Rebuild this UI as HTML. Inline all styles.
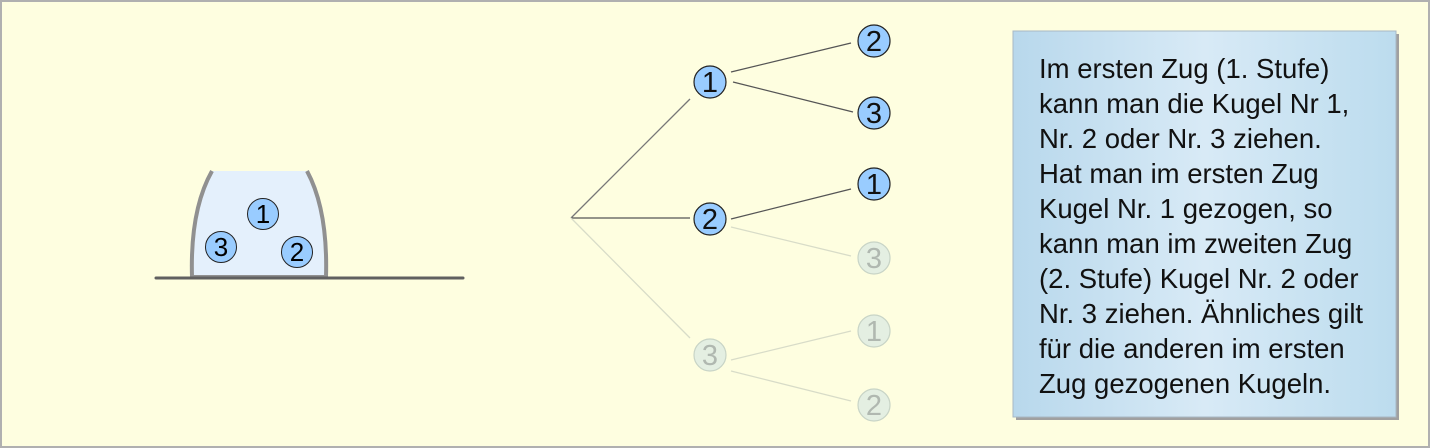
<!DOCTYPE html>
<html><head><meta charset="utf-8"><style>
html,body{margin:0;padding:0;}
body{width:1430px;height:448px;overflow:hidden;background:#fefee0;font-family:"Liberation Sans",sans-serif;}
</style></head><body>
<svg width="1430" height="448" xmlns="http://www.w3.org/2000/svg" font-family="Liberation Sans, sans-serif" style="display:block">
<defs>
<linearGradient id="g" x1="0" y1="0" x2="1" y2="0">
<stop offset="0" stop-color="#b8d8ec"/><stop offset="0.5" stop-color="#d8eaf6"/><stop offset="1" stop-color="#bcdcee"/>
</linearGradient>
</defs>
<rect x="1" y="1" width="1428" height="446" fill="#fefee0" stroke="#b0b0b0" stroke-width="2"/>
<!-- jar -->
<path d="M212,171 Q190,210 192,277 L326,277 Q328,210 307,171 Z" fill="#e4f0fc"/>
<path d="M212,171 Q190,210 192,277 L326,277 Q328,210 307,171" fill="none" stroke="#909090" stroke-width="4"/>
<line x1="156" y1="278" x2="463" y2="278" stroke="#606060" stroke-width="3" stroke-linecap="round"/>
<g font-size="26" text-anchor="middle">
<circle cx="263" cy="214" r="15.5" fill="#99ccff" stroke="#222" stroke-width="1"/><text x="263" y="223">1</text>
<circle cx="221" cy="247" r="15.5" fill="#99ccff" stroke="#222" stroke-width="1"/><text x="221" y="256">3</text>
<circle cx="297" cy="252" r="15.5" fill="#99ccff" stroke="#222" stroke-width="1"/><text x="297" y="261">2</text>
</g>
<!-- tree lines -->
<g stroke-width="1.3">
<line x1="571" y1="218" x2="690" y2="99" stroke="#777"/>
<line x1="571" y1="218" x2="690" y2="218" stroke="#555"/>
<line x1="571" y1="218" x2="690" y2="338" stroke="#d8dcc8"/>
<line x1="731" y1="72" x2="851" y2="43" stroke="#555"/>
<line x1="733" y1="82" x2="853" y2="112" stroke="#555"/>
<line x1="731" y1="219" x2="851" y2="189" stroke="#555"/>
<line x1="731" y1="227" x2="851" y2="256" stroke="#d8dcc8"/>
<line x1="731" y1="360" x2="851" y2="331" stroke="#d8dcc8"/>
<line x1="731" y1="371" x2="851" y2="401" stroke="#d8dcc8"/>
</g>
<g font-size="29" text-anchor="middle">
<g fill="#99ccff" stroke="#222" stroke-width="1.2">
<circle cx="710" cy="82" r="16"/><circle cx="710" cy="219" r="16"/>
<circle cx="874" cy="41" r="16"/><circle cx="874" cy="113" r="16"/><circle cx="874" cy="184" r="16"/>
</g>
<g fill="#e4efe2" stroke="#c8d4c6" stroke-width="1.2">
<circle cx="710" cy="355" r="16"/><circle cx="874" cy="258" r="16"/><circle cx="874" cy="331" r="16"/><circle cx="874" cy="405" r="16"/>
</g>
<g fill="#111">
<text x="710" y="92">1</text><text x="710" y="229">2</text>
<text x="874" y="51">2</text><text x="874" y="123">3</text><text x="874" y="194">1</text>
</g>
<g fill="#b0b8b0">
<text x="710" y="365">3</text><text x="874" y="268">3</text><text x="874" y="341">1</text><text x="874" y="415">2</text>
</g>
</g>
<!-- text box -->
<rect x="1016" y="34" width="383" height="386" fill="#a0a0a0"/>
<rect x="1013" y="31" width="383" height="386" fill="url(#g)" stroke="#a8b8c4" stroke-width="1"/>
<g font-size="27.5" fill="#111">
<text x="1039" y="78">Im ersten Zug (1. Stufe)</text>
<text x="1039" y="113">kann man die Kugel Nr 1,</text>
<text x="1039" y="148">Nr. 2 oder Nr. 3 ziehen.</text>
<text x="1039" y="183">Hat man im ersten Zug</text>
<text x="1039" y="218">Kugel Nr. 1 gezogen, so</text>
<text x="1039" y="253">kann man im zweiten Zug</text>
<text x="1039" y="288">(2. Stufe) Kugel Nr. 2 oder</text>
<text x="1039" y="323">Nr. 3 ziehen. Ähnliches gilt</text>
<text x="1039" y="358">für die anderen im ersten</text>
<text x="1039" y="393">Zug gezogenen Kugeln.</text>
</g>
</svg>
</body></html>
